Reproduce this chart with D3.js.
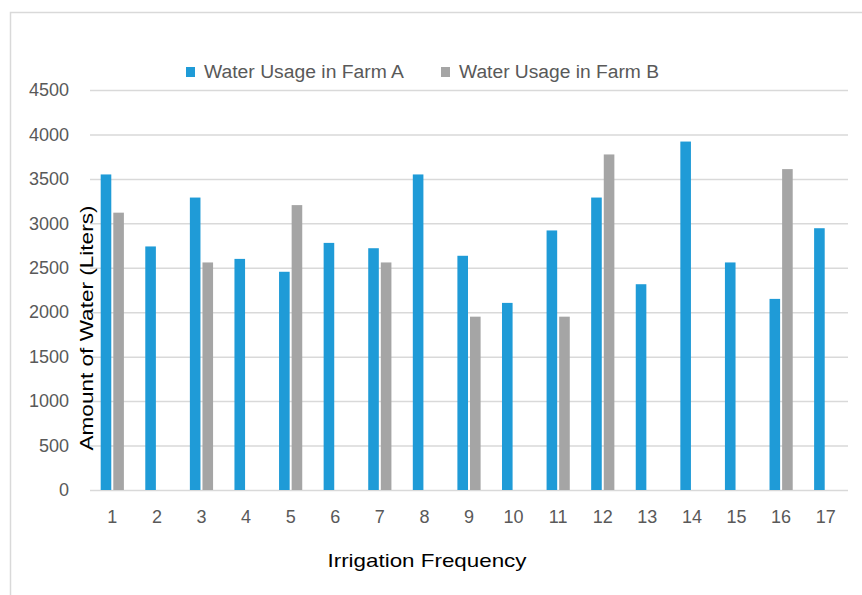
<!DOCTYPE html>
<html>
<head>
<meta charset="utf-8">
<script src="https://cdn.jsdelivr.net/npm/d3@7"></script>
<style>
  body { margin: 0; background: #fff; }
  svg text { font-family: "Liberation Sans", Arial, sans-serif; }
</style>
</head>
<body>
<div id="chart"></div>
<script>
var width = 862;
var height = 595;

var categories = ["1", "2", "3", "4", "5", "6", "7", "8", "9", "10", "11", "12", "13", "14", "15", "16", "17"];
var farmA = [3550, 2740, 3290, 2600, 2455, 2780, 2720, 3550, 2635, 2105, 2920, 3290, 2315, 3920, 2560, 2150, 2945];
var farmB = [3120, null, 2560, null, 3205, null, 2560, null, 1950, null, 1950, 3775, null, null, null, 3610, null];
var seriesNames = ["Water Usage in Farm A", "Water Usage in Farm B"];
var seriesColors = ["#1f9bd7", "#a5a5a5"];
var yTicks = [0, 500, 1000, 1500, 2000, 2500, 3000, 3500, 4000, 4500];

var plot = { left: 90, right: 848, top: 90, bottom: 490 };

var svg = d3.select('#chart')
  .append('svg')
  .attr('width', width)
  .attr('height', height);

// chart frame
svg.append('rect')
  .attr('x', 10.5)
  .attr('y', 12.5)
  .attr('width', 860)
  .attr('height', 600)
  .attr('fill', 'none')
  .attr('stroke', '#d9d9d9')
  .attr('stroke-width', 1.5);

var x = d3.scaleBand()
  .domain(categories)
  .range([plot.left, plot.right]);

var y = d3.scaleLinear()
  .domain([0, 4500])
  .range([plot.bottom, plot.top]);

var barW = 10.6;
var barGap = 2;

// gridlines
var yAxis = d3.axisLeft(y)
  .tickValues(yTicks)
  .tickSize(-(plot.right - plot.left))
  .tickPadding(21)
  .tickFormat(d3.format('d'));

var gy = svg.append('g')
  .attr('transform', 'translate(' + plot.left + ',0)')
  .call(yAxis);
gy.select('.domain').remove();
gy.selectAll('line').attr('stroke', '#d9d9d9').attr('stroke-width', 1.5);
gy.selectAll('text')
  .attr('fill', '#595959')
  .style('font-size', '18px');

// bars
var data = [];
categories.forEach(function(c, i) {
  data.push({ cat: c, s: 0, v: farmA[i] });
  if (farmB[i] != null) {
    data.push({ cat: c, s: 1, v: farmB[i] });
  }
});

var groupW = barW * 2 + barGap;
svg.append('g')
  .selectAll('rect')
  .data(data)
  .enter()
  .append('rect')
  .attr('x', function(d) {
    return x(d.cat) + (x.bandwidth() - groupW) / 2 + d.s * (barW + barGap);
  })
  .attr('y', function(d) { return y(d.v); })
  .attr('width', barW)
  .attr('height', function(d) { return y(0) - y(d.v); })
  .attr('fill', function(d) { return seriesColors[d.s]; });

// x axis labels
var xAxis = d3.axisBottom(x).tickSize(0).tickPadding(20);
var gx = svg.append('g')
  .attr('transform', 'translate(0,' + plot.bottom + ')')
  .call(xAxis);
gx.select('.domain').remove();
gx.selectAll('text')
  .attr('fill', '#595959')
  .style('font-size', '18px');

// axis titles
svg.append('text')
  .attr('x', 427)
  .attr('y', 567)
  .attr('text-anchor', 'middle')
  .attr('fill', '#000')
  .attr('textLength', 199)
  .attr('lengthAdjust', 'spacingAndGlyphs')
  .style('font-size', '19px')
  .text('Irrigation Frequency');

svg.append('text')
  .attr('transform', 'translate(93,328) rotate(-90)')
  .attr('text-anchor', 'middle')
  .attr('fill', '#000')
  .attr('textLength', 245)
  .attr('lengthAdjust', 'spacingAndGlyphs')
  .style('font-size', '19px')
  .text('Amount of Water (Liters)');

// legend
var legendX = [186, 441];
var legend = svg.append('g')
  .selectAll('g')
  .data(seriesNames)
  .enter()
  .append('g')
  .attr('transform', function(d, i) { return 'translate(' + legendX[i] + ',66)'; });
legend.append('rect')
  .attr('width', 9)
  .attr('height', 10)
  .attr('y', 1)
  .attr('fill', function(d, i) { return seriesColors[i]; });
legend.append('text')
  .attr('x', 18)
  .attr('y', 12)
  .attr('fill', '#595959')
  .attr('textLength', 200)
  .attr('lengthAdjust', 'spacingAndGlyphs')
  .style('font-size', '18px')
  .text(function(d) { return d; });
</script>
</body>
</html>
